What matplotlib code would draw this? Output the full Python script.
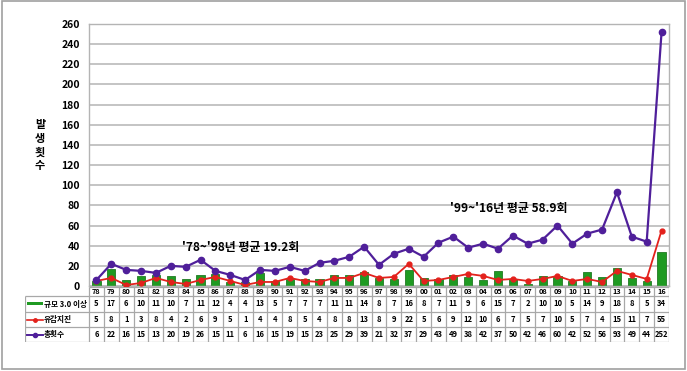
import matplotlib
matplotlib.use('Agg')
import matplotlib.pyplot as plt
from matplotlib.patches import Rectangle
from matplotlib.lines import Line2D
import numpy as np

plt.rcParams['font.family'] = ['Noto Sans CJK KR', 'DejaVu Sans']

# year labels and the three series (from the table under the chart)
years = ['78', '79', '80', '81', '82', '83', '84', '85', '86', '87', '88', '89', '90',
         '91', '92', '93', '94', '95', '96', '97', '98', '99', '00', '01', '02', '03',
         '04', '05', '06', '07', '08', '09', '10', '11', '12', '13', '14', '15', '16']
mag3 = [5, 17, 6, 10, 11, 10, 7, 11, 12, 4, 4, 13, 5, 7, 7, 7, 11, 11, 14, 8, 7, 16,
        8, 7, 11, 9, 6, 15, 7, 2, 10, 10, 5, 14, 9, 18, 8, 5, 34]
felt = [5, 8, 1, 3, 8, 4, 2, 6, 9, 5, 1, 4, 4, 8, 5, 4, 8, 8, 13, 8, 9, 22, 5, 6, 9,
        12, 10, 6, 7, 5, 7, 10, 5, 7, 4, 15, 11, 7, 55]
total = [6, 22, 16, 15, 13, 20, 19, 26, 15, 11, 6, 16, 15, 19, 15, 23, 25, 29, 39, 21,
         32, 37, 29, 43, 49, 38, 42, 37, 50, 42, 46, 60, 42, 52, 56, 93, 49, 44, 252]
row_names = ['규모 3.0 이상', '유감지진', '총횟수']
ylabel_chars = ['발', '생', '횟', '수']
note1 = "'78~'98년 평균 19.2회"
note2 = "'99~'16년 평균 58.9회"

GREEN = '#1f9a22'
GREEN_E = '#217a23'
RED = '#e3211c'
PURPLE = '#4f1f9a'
GRID = '#b4b4b4'

W, H = 687, 371
fig = plt.figure(figsize=(W / 100, H / 100), dpi=100)


def box(l, t, r, b):
    return [l / W, 1 - b / H, (r - l) / W, (b - t) / H]


x = np.arange(len(years))
n = len(years)

ax = fig.add_axes(box(89, 24, 669, 286))
ax.bar(x, mag3, width=0.55, color=GREEN, edgecolor=GREEN_E, linewidth=0.6, zorder=2)
ax.plot(x, felt, color=RED, lw=1.3, marker='o', ms=3.5, zorder=3)
ax.plot(x, total, color=PURPLE, lw=1.6, marker='o', ms=4.5, zorder=4)
ax.set_xlim(-0.5, n - 0.5)
ax.set_ylim(0, 260)
ax.set_yticks(range(0, 261, 20))
ax.set_xticks([])
ax.tick_params(axis='y', length=0, pad=6.5, labelsize=7.5)
for lab in ax.get_yticklabels():
    lab.set_fontweight('bold')
ax.yaxis.grid(True, color=GRID, lw=1.1, zorder=0)
ax.set_axisbelow(True)
for s in ax.spines.values():
    s.set_color(GRID)
    s.set_linewidth(1.0)

ax.text(5.75, 38, note1, fontsize=8.6, fontweight='bold', va='center', ha='left')
ax.text(23.8, 77, note2, fontsize=8.6, fontweight='bold', va='center', ha='left')

for i, ch in enumerate(ylabel_chars):
    fig.text(40 / W, 1 - (124 + 14 * i) / H, ch, fontsize=8, fontweight='bold',
             ha='center', va='center')

# data table under the chart
colw = 580 / n
lw_units = 64 / colw
tb = fig.add_axes(box(25, 287, 669, 342))
tb.set_xlim(-0.5 - lw_units, n - 0.5)
tb.set_ylim(55, 0)
tb.axis('off')
tc = '#a8a8a8'
rows_y = [0, 9, 25, 40, 55]
tb.hlines(0, -0.5, n - 0.5, color=tc, lw=0.9)
tb.hlines(rows_y[1:], -0.5 - lw_units, n - 0.5, color=tc, lw=0.9)
tb.vlines(np.arange(n + 1) - 0.5, 0, 55, color=tc, lw=0.9)
tb.vlines(-0.5 - lw_units, 9, 55, color=tc, lw=0.9)

for i, yr in enumerate(years):
    tb.text(i, 4.7, yr, fontsize=5.3, fontweight='bold', ha='center', va='center')
for r, vals in enumerate([mag3, felt, total]):
    yc = (rows_y[r + 1] + rows_y[r + 2]) / 2
    for i, v in enumerate(vals):
        tb.text(i, yc, str(v), fontsize=5.5, fontweight='bold', ha='center', va='center')
    tb.text(-0.5 - lw_units + 1.25, yc, row_names[r], fontsize=5.5, fontweight='bold',
            ha='left', va='center')

x0 = -0.5 - lw_units + 0.15
x1 = x0 + 1.05
tb.add_patch(Rectangle((x0, 14.8), x1 - x0, 3.2, color=GREEN, lw=0))
tb.add_line(Line2D([x0, x1], [32.5, 32.5], color=RED, lw=1.2))
tb.plot([(x0 + x1) / 2], [32.5], 'o', color=RED, ms=2.5)
tb.add_line(Line2D([x0, x1], [47.5, 47.5], color=PURPLE, lw=1.4))
tb.plot([(x0 + x1) / 2], [47.5], 'o', color=PURPLE, ms=3)

# outer frame
fig.add_artist(Rectangle((2 / W, 1 - 369 / H), 683 / W, 368 / H, transform=fig.transFigure,
                         fill=False, edgecolor='#a0a0a0', lw=1.2))

fig.savefig('out.png', dpi=100)
